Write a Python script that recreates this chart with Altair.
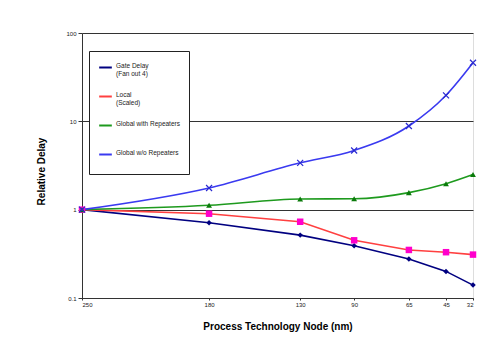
import altair as alt
import pandas as pd

nodes = [250, 180, 130, 90, 65, 45, 32]
series = ["Gate Delay\n(Fan out 4)", "Local\n(Scaled)", "Global with Repeaters", "Global w/o Repeaters"]
gate_delay = [1.0, 0.71, 0.515, 0.39, 0.277, 0.20, 0.14]
local = [1.0, 0.90, 0.73, 0.45, 0.35, 0.33, 0.31]
global_rep = [1.0, 1.12, 1.32, 1.33, 1.56, 1.97, 2.5]
global_norep = [1.0, 1.76, 3.39, 4.68, 8.85, 19.7, 46.0]

values = [gate_delay, local, global_rep, global_norep]
rows = []
for s, vals in zip(series, values):
    for n, v in zip(nodes, vals):
        rows.append({"node": n, "delay": v, "series": s})
df = pd.DataFrame(rows)

W, H = 391, 265
# fractional position of each node along the (non-uniform) x axis
node_frac = [0.0, 0.325, 0.558, 0.696, 0.836, 0.931, 1.0]

line_colors = ["#000080", "#FF4040", "#1E9A1E", "#3A3AF0"]
marker_colors = ["#000080", "#FF00CC", "#0A7A0A", "#2A2AD0"]
marker_shapes = ["diamond", "square", "triangle-up", "M-1,-1L1,1M-1,1L1,-1"]
marker_sizes = [30, 42, 34, 36]
interp = ["linear", "linear", "monotone", "monotone"]

xenc = alt.X("node:Q",
             scale=alt.Scale(domain=nodes, range=[f * W for f in node_frac], zero=False, nice=False),
             axis=alt.Axis(values=nodes, format="d", title="Process Technology Node (nm)",
                           grid=False, tickSize=2, labelFontSize=6, labelPadding=1,
                           titleFontSize=10, titleFontWeight="bold", titlePadding=14,
                           domainColor="#333", tickColor="#333", labelColor="#222"))
yenc = alt.Y("delay:Q",
             scale=alt.Scale(type="log", domain=[0.1, 100], nice=False),
             axis=alt.Axis(values=[0.1, 1, 10, 100], format="~g", title="Relative Delay",
                           grid=True, gridColor="#333", gridWidth=1, tickSize=4,
                           labelFontSize=6, labelPadding=2, titleFontSize=10,
                           titleFontWeight="bold", titlePadding=19, titleY=138,
                           domainColor="#333", tickColor="#333", labelColor="#222"))

base = alt.Chart(df)

layers = []
for i, s in enumerate(series):
    ln = base.transform_filter(alt.datum.series == s).mark_line(
        strokeWidth=1.6, interpolate=interp[i]
    ).encode(
        x=xenc, y=yenc,
        stroke=alt.Stroke("series:N",
                          scale=alt.Scale(domain=series, range=line_colors),
                          legend=alt.Legend(
                              title=None, orient="none", legendX=7, legendY=18,
                              fillColor="white", strokeColor="#222", padding=9,
                              symbolType="stroke", symbolSize=160, symbolStrokeWidth=2,
                              labelFontSize=6.5, labelLimit=200, rowPadding=11,
                              labelExpr="indexof(datum.label, '\\n') >= 0 ? split(datum.label, '\\n') : [datum.label, ' ']",
                              labelBaseline="alphabetic", labelColor="#222",
                              symbolOffset=0, labelOffset=3)),
    )
    layers.append(ln)

for i, s in enumerate(series):
    filled = i != 3
    pt = base.transform_filter(alt.datum.series == s).mark_point(
        shape=marker_shapes[i], size=marker_sizes[i], filled=filled,
        color=marker_colors[i], opacity=1, strokeWidth=1.2
    ).encode(x=xenc, y=yenc)
    layers.append(pt)

chart = alt.layer(*layers).properties(
    width=W, height=H,
    padding={"left": 82, "top": 33, "right": 22, "bottom": 58},
    autosize=alt.AutoSizeParams(type="none"),
    background="white",
).configure_view(
    fill="#FFFFCC", stroke="#3a3a3a", strokeWidth=1.5
).configure(font="Liberation Sans")

chart.save("out.html", embed_options={"renderer": "svg", "actions": False})
